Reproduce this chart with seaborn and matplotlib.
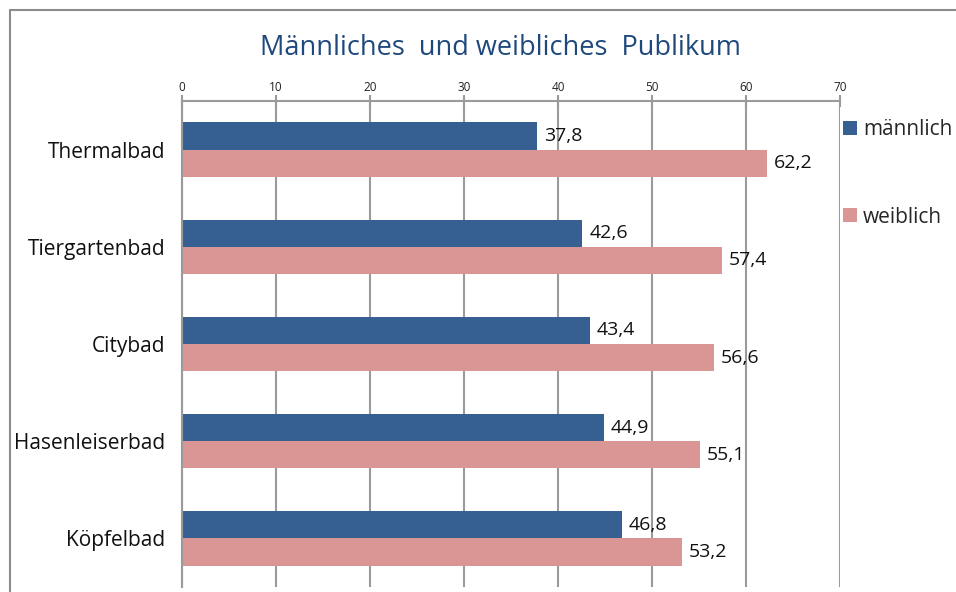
import matplotlib.pyplot as plt
import seaborn as sns
import pandas as pd
from matplotlib.lines import Line2D

# data
baeder = ["Thermalbad", "Tiergartenbad", "Citybad", "Hasenleiserbad", "Köpfelbad"]
maennlich = [37.8, 42.6, 43.4, 44.9, 46.8]
weiblich = [62.2, 57.4, 56.6, 55.1, 53.2]
x_ticks = [0, 10, 20, 30, 40, 50, 60, 70]

df = pd.DataFrame({
    "Bad": baeder * 2,
    "Anteil": maennlich + weiblich,
    "Geschlecht": ["männlich"] * len(baeder) + ["weiblich"] * len(baeder),
})

sns.set_style("white")
plt.rcParams["font.family"] = ["Open Sans", "DejaVu Sans"]

BLUE = "#376092"
PINK = "#DA9694"
GRID = "#9a9a9a"

fig = plt.figure(figsize=(9.56, 5.92), dpi=100)
ax = fig.add_axes([182 / 956, 1 - 587 / 592, (840 - 182) / 956, (587 - 101) / 592])

sns.barplot(data=df, y="Bad", x="Anteil", hue="Geschlecht", orient="h",
            palette=[BLUE, PINK], width=0.56, saturation=1, linewidth=0, ax=ax)

for cont in ax.containers:
    ax.bar_label(cont, labels=[f"{v:.1f}".replace(".", ",") for v in cont.datavalues],
                 padding=5, fontsize=14, color="#111111")

ax.set_xlim(0, 70)
ax.set_ylim(4.5, -0.5)
ax.set_xticks(x_ticks)
ax.xaxis.tick_top()
ax.tick_params(axis="x", which="major", direction="inout", length=8, width=1.5,
               color=GRID, labelsize=8.5, pad=1, labelcolor="#222222")
ax.set_yticks(range(len(baeder)))
ax.set_yticks([i - 0.5 for i in range(len(baeder) + 1)], minor=True)
ax.tick_params(axis="y", which="major", length=0, labelsize=15, pad=12, labelcolor="#111111")
ax.tick_params(axis="y", which="minor", direction="out", length=5, width=1.5, color=GRID)
ax.set_xlabel("")
ax.set_ylabel("")
ax.grid(axis="x", color=GRID, linewidth=1.5)
ax.set_axisbelow(True)
for side in ["top", "left"]:
    ax.spines[side].set_color(GRID)
    ax.spines[side].set_linewidth(1.5)
for side in ["right", "bottom"]:
    ax.spines[side].set_visible(False)

sns.move_legend(ax, "upper left", bbox_to_anchor=(843 / 956, 1 - 119 / 592),
                bbox_transform=fig.transFigure, frameon=False, title=None,
                fontsize=15, labelspacing=3.2, handlelength=0.65, handleheight=0.65,
                handletextpad=0.3, borderaxespad=0, borderpad=0)

fig.text(500 / 956, 1 - 48 / 592, "Männliches  und weibliches  Publikum",
         ha="center", va="center", fontsize=19.5, color="#1F497D")

# outer chart frame (cut off at right and bottom)
fig.add_artist(Line2D([10 / 956, 10 / 956], [0, 1 - 10 / 592], transform=fig.transFigure,
                      color="#8c8c8c", linewidth=1.5))
fig.add_artist(Line2D([10 / 956, 1], [1 - 10 / 592, 1 - 10 / 592], transform=fig.transFigure,
                      color="#8c8c8c", linewidth=1.5))

fig.savefig("out.png", dpi=100)
